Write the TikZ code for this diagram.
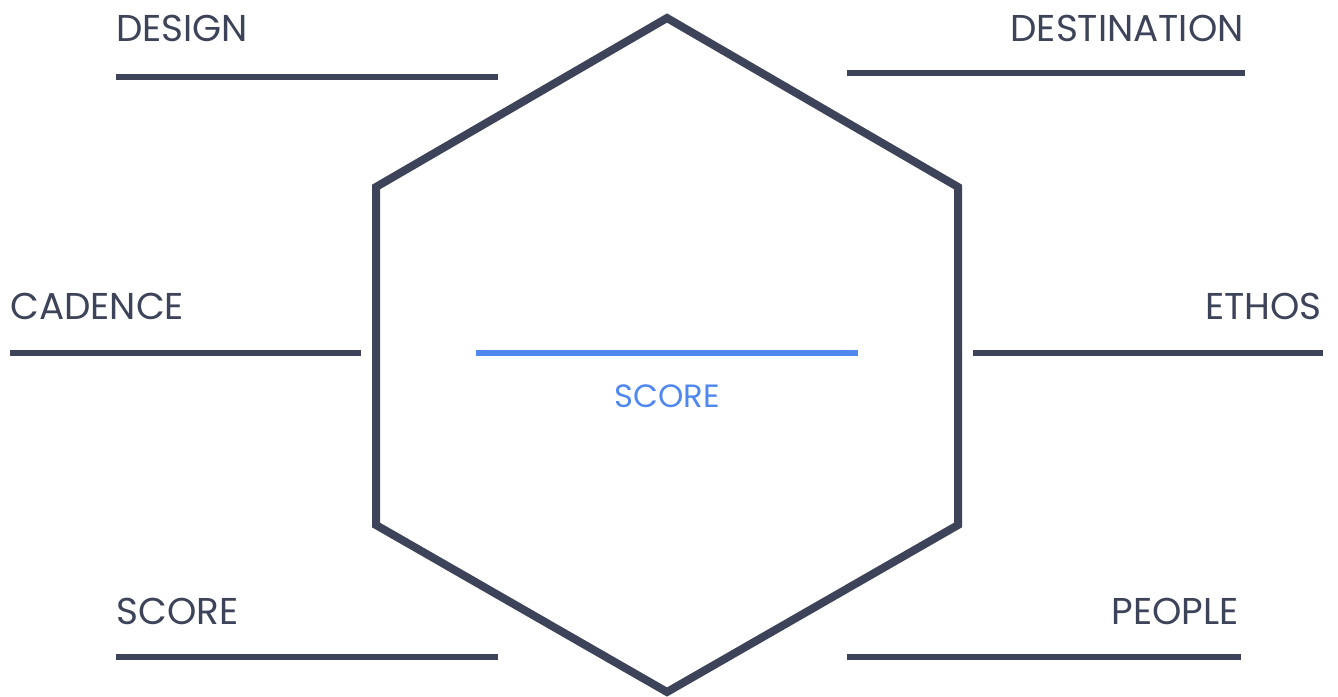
\documentclass[tikz,border=0pt]{standalone}
\usepackage{fontspec}
\setmainfont{Poppins}
\usepackage{xcolor}
\definecolor{slate}{HTML}{3D4459}
\definecolor{skyblue}{HTML}{5088F0}

\begin{document}
\begin{tikzpicture}[x=0.75pt,y=-0.75pt,
  lbl/.style={font=\fontsize{28}{30}\selectfont,text=slate,inner sep=0pt},
  rule/.style={slate,line width=4.5pt}]
  \useasboundingbox (0,0) rectangle (1338,696);
  % hexagon
  \draw[slate,line width=6pt,line join=miter]
    (667,18)--(958,187)--(958,525)--(667,692)--(376,525)--(376,187)--cycle;
  % centre
  \draw[skyblue,line width=3.8pt](476,353)--(858,353);
  \node[font=\fontsize{24.2}{28}\selectfont,text=skyblue,inner sep=0pt,
        anchor=base] (mid) at (667,407){SCORE};
  % left side
  \node[lbl,anchor=base west] (design) at (116,41){DESIGN};
  \draw[rule](116,77)--(498,77);
  \node[lbl,anchor=base west] (cadence) at (10,319){CADENCE};
  \draw[rule](10,353)--(361,353);
  \node[lbl,anchor=base west] (score) at (116,624){SCORE};
  \draw[rule](116,657)--(498,657);
  % right side
  \node[lbl,anchor=base east] (dest) at (1244,41){DESTINATION};
  \draw[rule](847,73)--(1245,73);
  \node[lbl,anchor=base east] (ethos) at (1322,319){ETHOS};
  \draw[rule](973,353)--(1323,353);
  \node[lbl,anchor=base east] (people) at (1239,624){PEOPLE};
  \draw[rule](847,657)--(1241,657);
\end{tikzpicture}
\end{document}
